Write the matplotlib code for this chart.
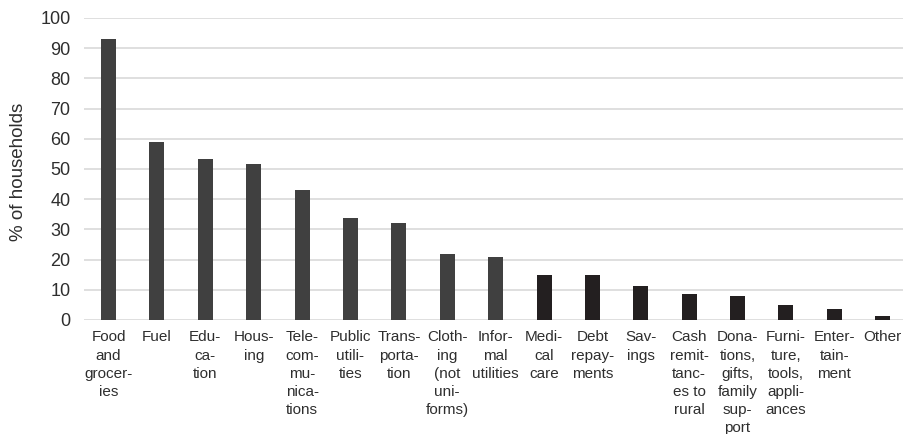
import matplotlib.pyplot as plt

plt.rcParams['font.family'] = ['Liberation Sans', 'DejaVu Sans']

categories = [
    "Food\nand\ngrocer-\nies", "Fuel", "Edu-\nca-\ntion", "Hous-\ning",
    "Tele-\ncom-\nmu-\nnica-\ntions", "Public\nutili-\nties", "Trans-\nporta-\ntion",
    "Cloth-\ning\n(not\nuni-\nforms)", "Infor-\nmal\nutilities", "Medi-\ncal\ncare",
    "Debt\nrepay-\nments", "Sav-\nings", "Cash\nremit-\ntanc-\nes to\nrural",
    "Dona-\ntions,\ngifts,\nfamily\nsup-\nport", "Furni-\nture,\ntools,\nappli-\nances",
    "Enter-\ntain-\nment", "Other",
]
values = [93.0, 59.0, 53.2, 51.6, 43.1, 33.8, 32.1, 21.9, 21.0, 15.0, 15.0,
          11.4, 8.7, 8.1, 5.0, 3.6, 1.3]
bar_colors = ['#404040'] * 9 + ['#231f20'] * 8

fig = plt.figure(figsize=(9.04, 4.34), dpi=100)
ax = fig.add_axes([0.0933, 0.2627, 0.9067, 0.6959])

x = range(len(categories))
ax.bar(x, values, width=0.31, color=bar_colors, zorder=3)

ax.set_ylim(0, 100)
ax.set_xlim(-0.5, 16.44)
ax.set_yticks(range(0, 101, 10))
ax.set_xticks(list(x))
ax.set_xticklabels(categories, fontsize=11, color='#2e2e2e', linespacing=1.38,
                   va='top', ha='center')
ax.tick_params(axis='y', length=0, pad=10, labelsize=13, labelcolor='#2e2e2e')
ax.tick_params(axis='x', length=0, pad=7.5)

ax.grid(axis='y', color='#d9d9d9', linewidth=1.2, zorder=0)
for s in ax.spines.values():
    s.set_visible(False)

fig.text(18.5 / 904, 1 - 172 / 434, '% of households', rotation=90,
         ha='center', va='center', fontsize=13.5, color='#2e2e2e')

fig.savefig('out.png', dpi=100)
